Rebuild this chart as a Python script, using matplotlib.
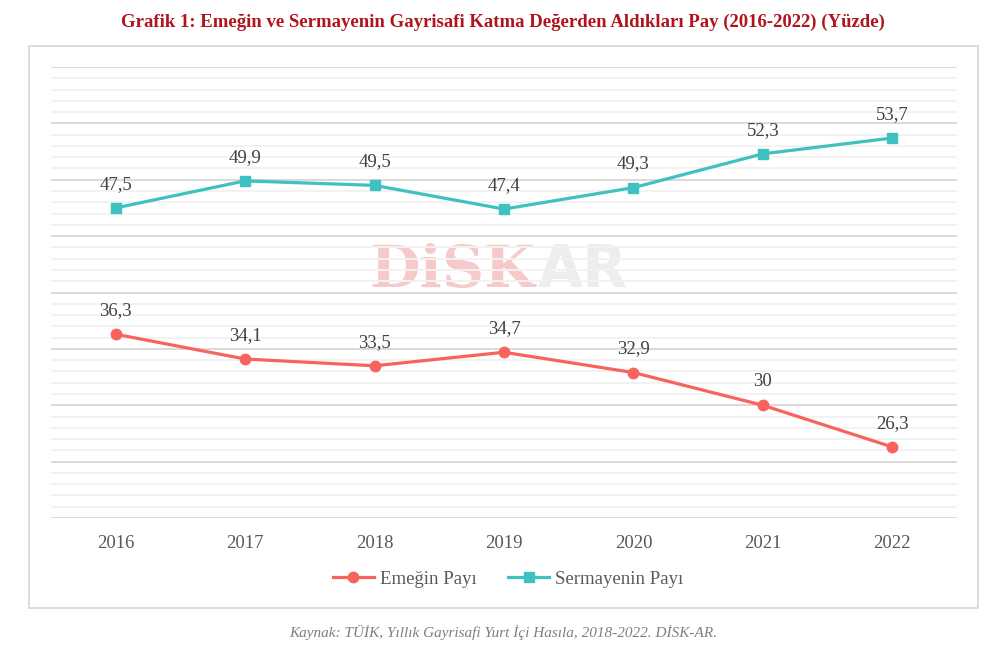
import matplotlib.pyplot as plt
from matplotlib.patches import Rectangle
from matplotlib.ticker import MultipleLocator

years = ['2016', '2017', '2018', '2019', '2020', '2021', '2022']
emek = [36.3, 34.1, 33.5, 34.7, 32.9, 30.0, 26.3]
sermaye = [47.5, 49.9, 49.5, 47.4, 49.3, 52.3, 53.7]
emek_labels = ['36,3', '34,1', '33,5', '34,7', '32,9', '30', '26,3']
sermaye_labels = ['47,5', '49,9', '49,5', '47,4', '49,3', '52,3', '53,7']

title = "Grafik 1: Emeğin ve Sermayenin Gayrisafi Katma Değerden Aldıkları Pay (2016-2022) (Yüzde)"
source = "Kaynak: TÜİK, Yıllık Gayrisafi Yurt İçi Hasıla, 2018-2022. DİSK-AR."

RED = '#F8635D'
TEAL = '#3EC1C0'
TEXT = '#404040'
SERIF = ['Liberation Serif', 'DejaVu Serif']

fig = plt.figure(figsize=(10.06, 6.51), dpi=100)
W, H = 1006, 651

# outer frame of the chart
fig.patches.append(Rectangle((29 / W, 1 - 608 / H), (978 - 29) / W, (608 - 46) / H,
                             transform=fig.transFigure, fill=False,
                             edgecolor='#D9D9D9', linewidth=1.3))

ax = fig.add_axes([51 / W, 1 - 518 / H, (957 - 51) / W, (518 - 67) / H])
x = list(range(len(years)))

ax.set_xlim(-0.5, len(years) - 0.5)
ax.set_ylim(20, 60)
ax.yaxis.set_major_locator(MultipleLocator(5))
ax.yaxis.set_minor_locator(MultipleLocator(1))
ax.grid(axis='y', which='major', color='#D9D9D9', linewidth=1.4)
ax.grid(axis='y', which='minor', color='#F2F2F2', linewidth=1.4)
ax.set_axisbelow(True)
for s in ax.spines.values():
    s.set_visible(False)
ax.tick_params(axis='y', which='both', left=False, labelleft=False)
ax.tick_params(axis='x', length=0, pad=12, labelsize=13.5, labelcolor='#595959')
ax.set_xticks(x)
ax.set_xticklabels(years, family=SERIF)

# watermark
ax.text(0.534, 0.513, 'DiSK', transform=ax.transAxes, ha='right', va='baseline',
        fontsize=42, fontweight='bold', family='DejaVu Serif', color='#F6CACB', zorder=0)
ax.text(0.537, 0.513, 'AR', transform=ax.transAxes, ha='left', va='baseline',
        fontsize=42, fontweight='bold', family='DejaVu Sans', color='#EDEDED', zorder=0)

ax.plot(x, emek, color=RED, linewidth=2.3, marker='o', markersize=7.5,
        label='Emeğin Payı', zorder=3)
ax.plot(x, sermaye, color=TEAL, linewidth=2.3, marker='s', markersize=7.5,
        label='Sermayenin Payı', zorder=3)

for xi, v, lab in zip(x, emek, emek_labels):
    ax.annotate(lab, (xi, v), xytext=(0, 17), textcoords='offset points',
                ha='center', va='center', fontsize=13.5, color=TEXT, family=SERIF)
for xi, v, lab in zip(x, sermaye, sermaye_labels):
    ax.annotate(lab, (xi, v), xytext=(0, 17), textcoords='offset points',
                ha='center', va='center', fontsize=13.5, color=TEXT, family=SERIF)

fig.legend(loc='center', bbox_to_anchor=(0.505, 1 - 579 / H), ncol=2, frameon=False,
           handlelength=2.2, columnspacing=1.7, handletextpad=0.3,
           prop={'family': SERIF, 'size': 13.5}, labelcolor='#595959')

fig.text(0.5, 1 - 22 / H, title, ha='center', va='center', fontsize=13.5,
         fontweight='bold', color='#B0141C', family=SERIF)
fig.text(0.5, 1 - 632 / H, source, ha='center', va='center', fontsize=11,
         style='italic', color='#7F7F7F', family=SERIF)

fig.savefig('out.png', dpi=100, facecolor='white')
